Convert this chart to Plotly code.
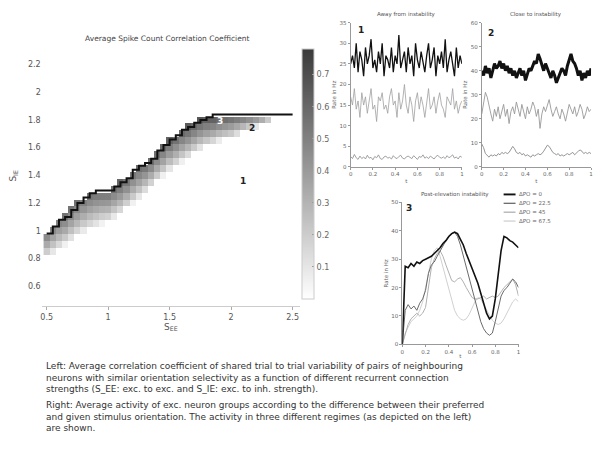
import numpy as np
import plotly.graph_objects as go

# ---------------- data: heatmap (per S_EE column) ----------------
s_ee = [0.50, 0.55, 0.60, 0.65, 0.70, 0.75, 0.80, 0.85, 0.90, 0.95, 1.00,
        1.05, 1.10, 1.15, 1.20, 1.25, 1.30, 1.35, 1.40, 1.45, 1.50,
        1.55, 1.60, 1.65, 1.70, 1.75, 1.80, 1.85, 1.90, 1.95, 2.00,
        2.05, 2.10, 2.15, 2.20, 2.25, 2.30, 2.35, 2.40, 2.45, 2.50]
# upper edge of the correlated band (instability boundary)
band_top = [0.98, 1.03, 1.08, 1.10, 1.15, 1.20, 1.24, 1.27, 1.29, 1.29, 1.29,
            1.32, 1.35, 1.38, 1.44, 1.47, 1.49, 1.52, 1.58, 1.62, 1.66,
            1.69, 1.73, 1.75, 1.78, 1.80, 1.82, 1.84, 1.84, 1.84, 1.84,
            1.84, 1.84, 1.84, 1.84, 1.84, 1.84, 1.84, 1.84, 1.84, 1.84]
# lower edge where correlation fades to zero
band_low = [0.80, 0.83, 0.86, 0.89, 0.92, 0.95, 0.98, 1.00, 1.02, 1.04, 1.05,
            1.08, 1.11, 1.15, 1.19, 1.23, 1.27, 1.31, 1.35, 1.39, 1.43,
            1.46, 1.49, 1.52, 1.55, 1.58, 1.60, 1.62, 1.64, 1.65, 1.66,
            1.68, 1.70, 1.72, 1.74, 1.76, 1.78, 1.80, 1.82, 1.84, 1.84]
# correlation value right at the boundary
band_peak = [0.52, 0.53, 0.54, 0.55, 0.55, 0.56, 0.57, 0.57, 0.58, 0.58, 0.58,
             0.59, 0.60, 0.60, 0.61, 0.61, 0.62, 0.62, 0.63, 0.63, 0.64,
             0.64, 0.65, 0.65, 0.66, 0.66, 0.67, 0.72, 0.70, 0.68, 0.66,
             0.64, 0.62, 0.60, 0.58, 0.54, 0.48, 0.40, 0.28, 0.0, 0.0]
s_ie = [round(0.45 + 0.05 * k, 2) for k in range(38)]

cbar_ticks = [0.1, 0.2, 0.3, 0.4, 0.5, 0.6, 0.7]
heat_xticks = [0.5, 1, 1.5, 2, 2.5]
heat_yticks = [0.6, 0.8, 1.0, 1.2, 1.4, 1.6, 1.8, 2.0, 2.2]

# ---------------- data: panel 1 (away from instability) ----------------
p1_black = [25, 27, 24, 30, 23, 28, 26, 22, 29, 25, 27, 31, 24, 26, 23, 28, 25, 30, 22, 27,
            26, 24, 29, 23, 27, 25, 32, 24, 26, 28, 23, 29, 25, 27, 22, 30, 26, 24, 28, 25,
            23, 27, 30, 24, 26, 29, 22, 27, 25, 28, 24, 31, 23, 26, 28, 25, 22, 29, 24, 27, 25]
p1_gray = [17, 15, 19, 14, 16, 12, 18, 15, 17, 13, 16, 19, 14, 15, 11, 17, 16, 18, 14, 15,
           13, 17, 19, 15, 16, 12, 18, 14, 16, 20, 15, 13, 17, 15, 11, 16, 18, 14, 17, 15,
           12, 16, 19, 14, 15, 17, 13, 16, 18, 15, 14, 12, 17, 16, 15, 19, 14, 16, 13, 15, 16]
p1_light = [2.5, 2, 3, 2.2, 1.8, 2.6, 2, 2.4, 1.9, 2.8, 2.1, 2.3, 1.7, 2.5, 2.2, 2.9, 2, 1.8, 2.4, 2.6,
            2.1, 2.3, 1.9, 2.7, 2.2, 2, 2.5, 2.8, 2.1, 1.9, 2.4, 2.6, 2.3, 2, 2.7, 2.2, 1.8, 2.5, 2.3, 2.9,
            2.1, 2.4, 2, 2.6, 2.2, 1.9, 2.5, 2.8, 2.3, 2.1, 2.4, 2, 2.7, 2.2, 2.5, 2.9, 2.1, 2.4, 1.9, 2.6, 2.3]
p1_yticks = [0, 5, 10, 15, 20, 25, 30, 35]

# ---------------- data: panel 2 (close to instability) ----------------
p2_black = [40, 38, 42, 39, 41, 37, 40, 43, 41, 42, 44, 41, 43, 40, 42, 39, 41, 38, 40, 37,
            39, 41, 38, 40, 36, 39, 41, 40, 42, 44, 43, 47, 45, 42, 40, 43, 41, 39, 37, 40,
            38, 35, 37, 39, 41, 40, 38, 42, 45, 47, 44, 43, 41, 38, 40, 36, 39, 37, 40, 38, 41]
p2_gray = [22, 27, 31, 29, 25, 22, 19, 24, 21, 25, 20, 23, 26, 21, 24, 18, 23, 25, 22, 27,
           24, 21, 26, 23, 20, 25, 22, 24, 27, 25, 21, 24, 16, 22, 25, 23, 26, 28, 24, 21,
           23, 25, 22, 20, 24, 22, 19, 23, 26, 24, 22, 25, 21, 23, 26, 24, 20, 22, 25, 23, 24]
p2_light = [9.5, 8, 5.5, 4.5, 4, 5, 4.5, 5, 4.5, 5.5, 5, 6, 5.5, 6, 5.5, 6, 7, 8.5, 7.5, 6,
            5.5, 6, 5, 5.5, 4.5, 5, 4.5, 4, 5, 4.5, 5, 5.5, 5, 5.5, 6.5, 8, 9, 8.5, 7, 6,
            5.5, 5, 5.5, 4.5, 5, 4.5, 5, 5.5, 5, 5.5, 6, 5, 6, 6.5, 7, 6.5, 5.5, 6, 5.5, 6, 5.5]
p2_yticks = [0, 10, 20, 30, 40, 50, 60]

# ---------------- data: panel 3 (post instability) ----------------
p3_d0 = [0, 27.5, 27, 28.5, 27.5, 29, 28.5, 29.5, 30, 30.5, 31, 32, 33, 34, 35.5, 36.5, 38, 39, 39.5, 39,
         37, 35, 32, 29.5, 27, 24.5, 21.5, 18, 14.5, 11, 9, 10, 16, 25, 33, 38, 37.5, 36.5, 36, 35, 34]
p3_d22 = [0, 12, 14, 12.5, 13.5, 12, 14.5, 16, 19, 25, 28, 29, 31, 33, 35, 36.5, 38, 39, 39.5, 38,
          35, 31, 27, 23, 19, 15, 11, 8, 5.5, 4, 3.2, 4, 8, 13, 17, 19, 20, 21.5, 23, 22, 20]
p3_d45 = [0, 4, 7, 9, 10, 11, 10, 11, 13, 20, 27, 30, 32, 33, 31, 28, 25, 22.5, 22, 23,
          23.5, 22, 20, 18, 16.5, 16, 16, 16.5, 17, 16, 16.5, 17, 16.5, 17, 18.5, 20, 21, 22, 23, 21, 17]
p3_d67 = [0, 4, 6, 8, 9, 10, 12, 15, 20, 25, 30, 33, 34, 31, 27, 23, 19, 15, 12, 10,
          9, 8.5, 9, 10.5, 13, 15, 16.5, 16, 14, 12, 10, 8.5, 7.5, 7, 7.5, 9, 11, 13, 15, 16, 15]
p3_names = ["ΔPO = 0", "ΔPO = 22.5", "ΔPO = 45", "ΔPO = 67.5"]
p3_yticks = [0, 10, 20, 30, 40, 50]
t_ticks = [0, 0.2, 0.4, 0.6, 0.8, 1]
t_ticktext = ["0", "0.2", "0.4", "0.6", "0.8", "1"]

caption_left = [
    "Left: Average correlation coefficient of shared trial to trial variability of pairs of neighbouring",
    "neurons with similar orientation selectivity as a function of different recurrent connection",
    "strengths (S_EE: exc. to exc. and S_IE: exc. to inh. strength).",
]
caption_right = [
    "Right: Average activity of exc. neuron groups according to the difference between their preferred",
    "and given stimulus orientation. The activity in three different regimes (as depicted on the left)",
    "are shown.",
]

W, H = 598, 453
def px(x):
    return x / W
def py(y):
    return 1 - y / H

# ---------------- build heatmap grid ----------------
z = np.full((len(s_ie), len(s_ee)), np.nan)
for i in range(len(s_ee)):
    top, low, pk = band_top[i], band_low[i], band_peak[i]
    for j, y in enumerate(s_ie):
        if y <= top:
            if y > low and top > low:
                z[j, i] = pk * ((y - low) / (top - low)) ** 0.75
            else:
                z[j, i] = 0.0

fig = go.Figure()
fig.add_trace(go.Heatmap(
    x=s_ee, y=s_ie, z=z, zmin=0, zmax=0.78,
    colorscale=[[0, "#ffffff"], [1, "#3a3a3a"]],
    showscale=True, hoverinfo="skip",
    colorbar=dict(x=px(302), xanchor="left", y=py(300), yanchor="bottom", xpad=0, ypad=0,
                  len=(300 - 47) / H, lenmode="fraction", thickness=12,
                  outlinecolor="#cccccc", outlinewidth=1,
                  tickvals=cbar_ticks, ticks="inside", ticklen=2, tickcolor="#999",
                  tickfont=dict(size=8, color="#666", family="DejaVu Sans")),
    xaxis="x", yaxis="y"))
fig.add_trace(go.Scatter(x=s_ee, y=band_top, mode="lines", line=dict(color="#111", width=2, shape="hv"),
                         showlegend=False, hoverinfo="skip", xaxis="x", yaxis="y"))

# ---------------- time series panels ----------------
def tgrid(v):
    return np.linspace(0, 1, len(v))

for vals, col, w in [(p1_light, "#8a8a8a", 0.8), (p1_gray, "#a0a0a0", 0.8), (p1_black, "#111111", 1.3)]:
    fig.add_trace(go.Scatter(x=tgrid(vals), y=vals, mode="lines", line=dict(color=col, width=w),
                             showlegend=False, xaxis="x2", yaxis="y2"))
for vals, col, w in [(p2_light, "#8a8a8a", 0.9), (p2_gray, "#999999", 0.9), (p2_black, "#111111", 3)]:
    fig.add_trace(go.Scatter(x=tgrid(vals), y=vals, mode="lines", line=dict(color=col, width=w),
                             showlegend=False, xaxis="x3", yaxis="y3"))
p3_series = [p3_d0, p3_d22, p3_d45, p3_d67]
p3_cols = ["#111111", "#6a6a6a", "#b0b0b0", "#d0d0d0"]
p3_w = [1.6, 1.0, 1.0, 1.0]
for k in [3, 2, 1, 0]:
    fig.add_trace(go.Scatter(x=tgrid(p3_series[k]), y=p3_series[k], mode="lines", name=p3_names[k],
                             line=dict(color=p3_cols[k], width=p3_w[k]),
                             showlegend=False, xaxis="x4", yaxis="y4"))

small = dict(size=5.5, color="#666", family="DejaVu Sans")
def ts_axes(xd, yd, yr, yt, xstand=2):
    xa = dict(domain=xd, range=[0, 1], tickvals=t_ticks, ticktext=t_ticktext, ticks="outside", ticklen=2,
              tickcolor="#999", showline=True, linecolor="#999", linewidth=1, showgrid=False, zeroline=False,
              tickfont=small, title=dict(text="t", font=small, standoff=xstand))
    ya = dict(domain=yd, range=yr, tickvals=yt, ticks="outside", ticklen=2, tickcolor="#999",
              showline=True, linecolor="#999", linewidth=1, showgrid=False, zeroline=False, tickfont=small,
              title=dict(text="Rate in Hz", font=small, standoff=2))
    return xa, ya

x2, y2 = ts_axes([px(351), px(463)], [py(166), py(20)], [0, 35], p1_yticks)
x3, y3 = ts_axes([px(483), px(593)], [py(166), py(20)], [0, 60], p2_yticks)
x4, y4 = ts_axes([px(403), px(520)], [py(346), py(202)], [0, 50], p3_yticks, xstand=0)
x2["anchor"], y2["anchor"] = "y2", "x2"
x3["anchor"], y3["anchor"] = "y3", "x3"
x4["anchor"], y4["anchor"] = "y4", "x4"

fig.update_layout(
    width=W, height=H, margin=dict(l=0, r=0, t=0, b=0),
    paper_bgcolor="white", plot_bgcolor="white", showlegend=False,
    font=dict(family="DejaVu Sans", color="#555"),
    xaxis=dict(domain=[px(40), px(300)], range=[0.46, 2.56], tickvals=heat_xticks,
               ticktext=["0.5", "1", "1.5", "2", "2.5"], ticks="outside", ticklen=3, tickcolor="#aaa",
               showline=True, linecolor="#cccccc", showgrid=False, zeroline=False,
               tickfont=dict(size=8, color="#555"), anchor="y",
               title=dict(text="S<sub>EE</sub>", font=dict(size=9, color="#555"), standoff=0)),
    yaxis=dict(domain=[py(307), py(47)], range=[0.457, 2.31], tickvals=heat_yticks,
               ticktext=["0.6", "0.8", "1", "1.2", "1.4", "1.6", "1.8", "2", "2.2"],
               ticks="", showline=False, showgrid=False, zeroline=False,
               tickfont=dict(size=8, color="#555"), anchor="x"),
    xaxis2=x2, yaxis2=y2, xaxis3=x3, yaxis3=y3, xaxis4=x4, yaxis4=y4,
)

ann = []
shapes = []
ann.append(dict(text="Average Spike Count Correlation Coefficient", x=px(167), y=py(36), xref="paper", yref="paper",
                xanchor="center", yanchor="middle", showarrow=False, font=dict(size=7.5, color="#444")))
ann.append(dict(text="S<sub>IE</sub>", x=px(12), y=py(175), xref="paper", yref="paper", showarrow=False,
                xanchor="center", yanchor="middle", textangle=-90, font=dict(size=9, color="#555")))
for txt, xx, yy, col in [("1", 2.10, 1.36, "#222"), ("2", 2.17, 1.74, "#222"), ("3", 1.91, 1.79, "#ffffff")]:
    ann.append(dict(text="<b>" + txt + "</b>", x=xx, y=yy, xref="x", yref="y", showarrow=False,
                    xanchor="center", yanchor="middle", font=dict(size=9, color=col)))
for txt, xx, yy in [("Away from instability", 407, 12), ("Close to instability", 538, 12),
                    ("Post-elevation instability", 456, 194)]:
    ann.append(dict(text=txt, x=px(xx), y=py(yy), xref="paper", yref="paper", showarrow=False,
                    xanchor="center", yanchor="middle", font=dict(size=5.5, color="#555")))
for txt, xx, yy in [("1", 361, 27), ("2", 492, 30), ("3", 410, 208)]:
    ann.append(dict(text="<b>" + txt + "</b>", x=px(xx), y=py(yy), xref="paper", yref="paper", showarrow=False,
                    xanchor="center", yanchor="middle", font=dict(size=9, color="#222")))
# compact legend for panel 3
leg_y = [194, 203, 212, 221]
for k in range(4):
    shapes.append(dict(type="line", xref="paper", yref="paper", x0=px(505), x1=px(517),
                       y0=py(leg_y[k]), y1=py(leg_y[k]), line=dict(color=p3_cols[k], width=p3_w[k] + 0.3)))
    ann.append(dict(text=p3_names[k], x=px(519), y=py(leg_y[k]), xref="paper", yref="paper", showarrow=False,
                    xanchor="left", yanchor="middle", font=dict(size=5.5, color="#666"), borderpad=0))
for lines, ymid in [(caption_left, 379.5), (caption_right, 419.5)]:
    ann.append(dict(text="<br>".join(lines), x=px(43), y=py(ymid), xref="paper", yref="paper",
                    xanchor="left", yanchor="middle", align="left", showarrow=False, borderpad=0,
                    font=dict(size=9, color="#333", family="DejaVu Sans")))
fig.update_layout(annotations=ann, shapes=shapes)

fig.write_html("out.html")
